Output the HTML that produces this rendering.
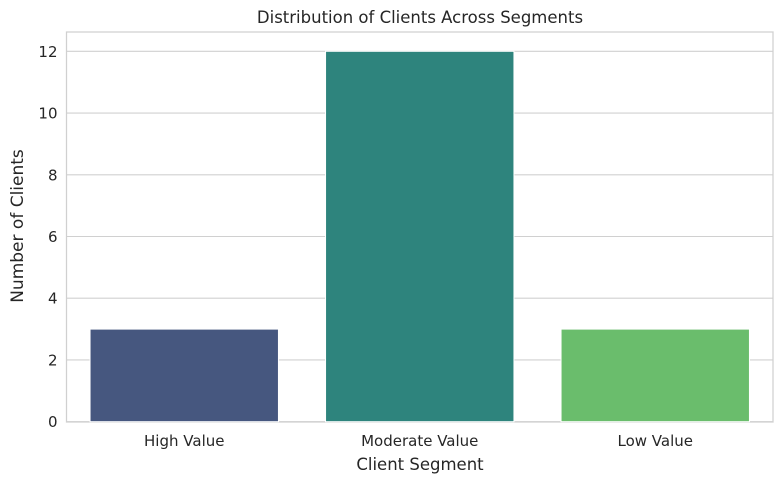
<!DOCTYPE html>
<html><head><meta charset="utf-8"><style>
body{margin:0;background:#fff;font-family:"Liberation Sans","DejaVu Sans",sans-serif}
</style></head><body>
<svg id="c" width="784" height="484" font-family="DejaVu Sans, Liberation Sans, sans-serif">
<rect x="66.5" y="32" width="706.5" height="390" fill="#fff" stroke="#d0d0d0" stroke-width="1.25"/>
<g id="grid"></g><g id="bars"></g><g id="xt"></g>
<text x="420" y="23" text-anchor="middle" font-size="16.5" fill="#262626">Distribution of Clients Across Segments</text>
<text x="420" y="470" text-anchor="middle" font-size="16.5" fill="#262626">Client Segment</text>
<text transform="translate(23,226) rotate(-90)" text-anchor="middle" font-size="17" fill="#262626">Number of Clients</text>
</svg>
<script>
const categories=["High Value","Moderate Value","Low Value"];
const values=[3,12,3];
const colors=["#46577f","#2e847d","#6abd6c"];
const yTicks=[0,2,4,6,8,10,12];
const ns="http://www.w3.org/2000/svg";
const L=66.5,R=773,T=32,B=422;
const y=v=>421.7-v*(421.7-51.3)/12;
const band=(R-L)/categories.length;
const x=i=>L+band*(i+0.5);
function mk(t,a,p){const e=document.createElementNS(ns,t);for(const k in a)e.setAttribute(k,a[k]);p.appendChild(e);return e;}
const g=document.getElementById('grid');
yTicks.forEach(v=>{
 const l=mk('line',{x1:L,x2:R,y1:y(v),y2:y(v),stroke:'#d0d0d0','stroke-width':1.1},g);
 
 
 const t=mk('text',{x:L-9,y:y(v)+5.5,'text-anchor':'end','font-size':15,fill:'#262626'},g);
 t.textContent=v;
 
 
});
const bg=document.getElementById('bars'),xg=document.getElementById('xt');
categories.forEach((c,i)=>{
 const w=band*0.8;
 const r=mk('rect',{x:x(i)-w/2,y:y(values[i]),width:w,height:y(0)-y(values[i]),fill:colors[i],stroke:'#fff','stroke-width':1},bg);
 
 
 const t=mk('text',{x:x(i),y:446,'text-anchor':'middle','font-size':15,fill:'#262626'},xg);
 t.textContent=c;
 
 
});
</script>
</body></html>
